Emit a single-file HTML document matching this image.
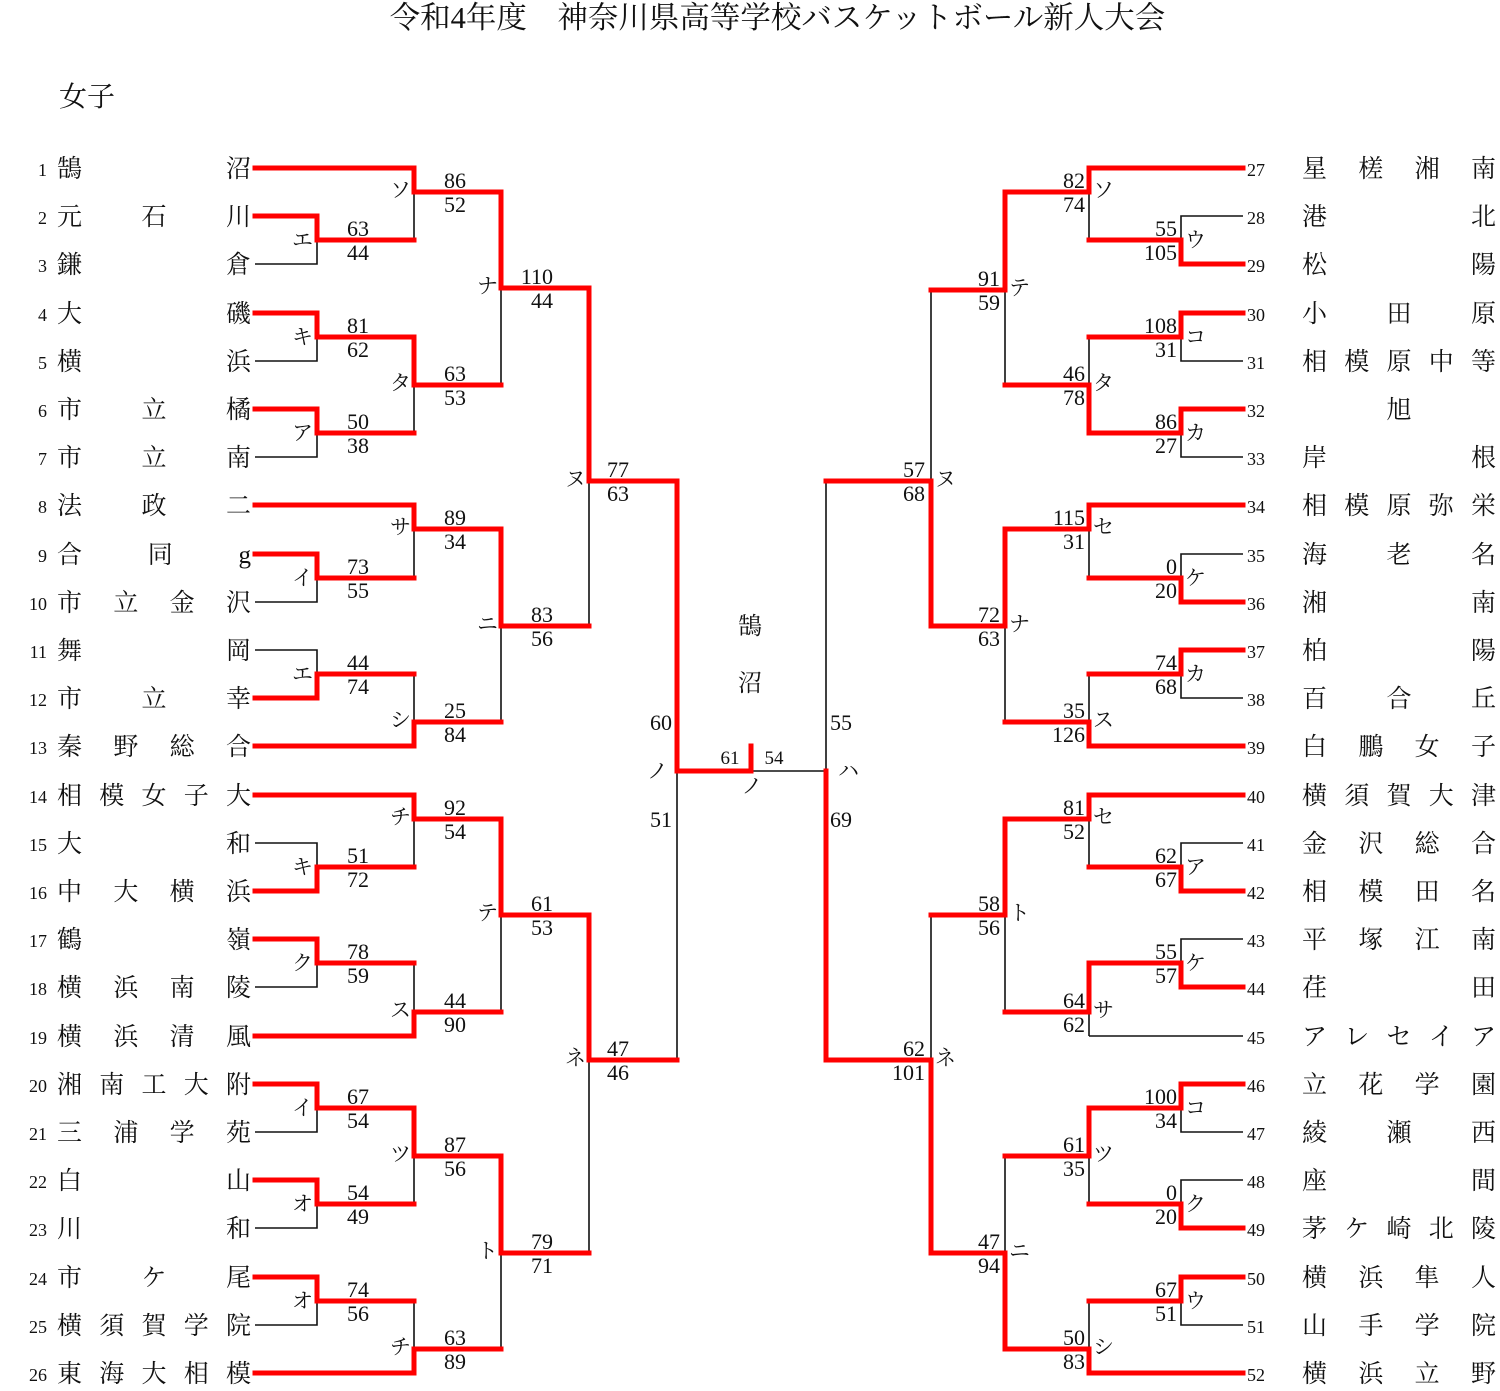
<!DOCTYPE html>
<html><head><meta charset="utf-8"><style>
body{margin:0;background:#fff;}
#w{position:relative;width:1500px;height:1391px;overflow:hidden;font-family:"Liberation Serif","Noto Serif CJK SC",serif;color:#111;}
svg{position:absolute;left:0;top:0;}
.r{fill:none;stroke:#f00;stroke-width:5;stroke-linecap:square;stroke-linejoin:miter;}
.k{fill:none;stroke:#111;stroke-width:1.6;}
.s{font-family:"Liberation Serif","Noto Serif CJK SC",serif;font-size:22px;fill:#111;}
.kt{font-family:"Liberation Serif","Noto Serif CJK SC",serif;font-size:21px;fill:#111;}
.row{position:absolute;height:30px;line-height:30px;margin-top:2px;}
.n{position:absolute;width:40px;text-align:right;font-size:18px;}
.nr{position:absolute;font-size:18px;}
.nm{position:absolute;display:flex;justify-content:space-between;font-size:25px;}
.c{justify-content:center;}
.title{position:absolute;left:0;width:1555px;text-align:center;top:-1px;font-size:30.5px;line-height:38px;}
</style></head><body><div id="w">
<div class="title">令和4年度　神奈川県高等学校バスケットボール新人大会</div>
<div style="position:absolute;left:59px;top:80px;font-size:28px;line-height:36px;">女子</div>
<div style="position:absolute;left:738px;top:606px;font-size:24px;">鵠</div>
<div style="position:absolute;left:738px;top:663px;font-size:24px;">沼</div>

<svg width="1500" height="1391" viewBox="0 0 1500 1391">
<g class="k">
<path d="M255 264H317V240M255 361H317V337M255 457H317V433M255 602H317V578M255 650H317V674M255 843H317V867M255 987H317V963M255 1132H317V1108M255 1228H317V1204M255 1325H317V1301"/>
<path d="M414 240V192M414 433V385M414 578V529M414 674V722M414 867V819M414 963V1012M414 1204V1156M414 1301V1349"/>
<path d="M501 385V288M501 722V626M501 1012V915M501 1349V1253M589 626V481M589 1253V1060M677 1060V771M751 771H826"/>
<path d="M1243 216H1181V240M1243 361H1181V337M1243 457H1181V433M1243 554H1181V578M1243 698H1181V674M1243 843H1181V867M1243 939H1181V963M1243 1132H1181V1108M1243 1180H1181V1204M1243 1325H1181V1301M1243 1036H1089"/>
<path d="M1089 240V192M1089 337V385M1089 578V529M1089 674V722M1089 867V819M1089 1036V1012M1089 1204V1156M1089 1301V1349"/>
<path d="M1005 385V290M1005 722V626M1005 1012V915M1005 1156V1253M931 290V481M931 915V1060M826 481V771"/>
</g>
<g class="r">
<path d="M255 216H317V240H414M255 313H317V337H414M255 409H317V433H414M255 554H317V578H414M255 698H317V674H414M255 891H317V867H414M255 939H317V963H414M255 1084H317V1108H414M255 1180H317V1204H414M255 1277H317V1301H414"/>
<path d="M255 168H414M255 505H414M255 746H414M255 795H414M255 1036H414M255 1373H414"/>
<path d="M414 168V192H501M414 337V385H501M414 505V529H501M414 746V722H501M414 795V819H501M414 1036V1012H501M414 1108V1156H501M414 1373V1349H501"/>
<path d="M501 192V288H589M501 529V626H589M501 819V915H589M501 1156V1253H589"/>
<path d="M589 288V481H677M589 915V1060H677"/>
<path d="M677 481V771H751V746"/>
<path d="M1243 264H1181V240H1089M1243 313H1181V337H1089M1243 409H1181V433H1089M1243 602H1181V578H1089M1243 650H1181V674H1089M1243 891H1181V867H1089M1243 987H1181V963H1089M1243 1084H1181V1108H1089M1243 1228H1181V1204H1089M1243 1277H1181V1301H1089"/>
<path d="M1243 168H1089M1243 505H1089M1243 746H1089M1243 795H1089M1243 1373H1089"/>
<path d="M1089 168V192H1005M1089 433V385H1005M1089 505V529H1005M1089 746V722H1005M1089 795V819H1005M1089 963V1012H1005M1089 1108V1156H1005M1089 1373V1349H1005"/>
<path d="M1005 192V290H931M1005 529V626H931M1005 819V915H931M1005 1349V1253H931"/>
<path d="M931 626V481H826M931 1253V1060H826"/>
<path d="M826 1060V771"/>
</g>

<g class="s" text-anchor="end">
<text x="369" y="236">63</text><text x="369" y="260">44</text>
<text x="369" y="333">81</text><text x="369" y="357">62</text>
<text x="369" y="429">50</text><text x="369" y="453">38</text>
<text x="369" y="574">73</text><text x="369" y="598">55</text>
<text x="369" y="670">44</text><text x="369" y="694">74</text>
<text x="369" y="863">51</text><text x="369" y="887">72</text>
<text x="369" y="959">78</text><text x="369" y="983">59</text>
<text x="369" y="1104">67</text><text x="369" y="1128">54</text>
<text x="369" y="1200">54</text><text x="369" y="1224">49</text>
<text x="369" y="1297">74</text><text x="369" y="1321">56</text>
<text x="466" y="188">86</text><text x="466" y="212">52</text>
<text x="466" y="381">63</text><text x="466" y="405">53</text>
<text x="466" y="525">89</text><text x="466" y="549">34</text>
<text x="466" y="718">25</text><text x="466" y="742">84</text>
<text x="466" y="815">92</text><text x="466" y="839">54</text>
<text x="466" y="1008">44</text><text x="466" y="1032">90</text>
<text x="466" y="1152">87</text><text x="466" y="1176">56</text>
<text x="466" y="1345">63</text><text x="466" y="1369">89</text>
<text x="553" y="284">110</text><text x="553" y="308">44</text>
<text x="553" y="622">83</text><text x="553" y="646">56</text>
<text x="553" y="911">61</text><text x="553" y="935">53</text>
<text x="553" y="1249">79</text><text x="553" y="1273">71</text>
<text x="629" y="477">77</text><text x="629" y="501">63</text>
<text x="629" y="1056">47</text><text x="629" y="1080">46</text>
<text x="672" y="730">60</text><text x="672" y="827">51</text>
<text x="1177" y="236">55</text><text x="1177" y="260">105</text>
<text x="1177" y="333">108</text><text x="1177" y="357">31</text>
<text x="1177" y="429">86</text><text x="1177" y="453">27</text>
<text x="1177" y="574">0</text><text x="1177" y="598">20</text>
<text x="1177" y="670">74</text><text x="1177" y="694">68</text>
<text x="1177" y="863">62</text><text x="1177" y="887">67</text>
<text x="1177" y="959">55</text><text x="1177" y="983">57</text>
<text x="1177" y="1104">100</text><text x="1177" y="1128">34</text>
<text x="1177" y="1200">0</text><text x="1177" y="1224">20</text>
<text x="1177" y="1297">67</text><text x="1177" y="1321">51</text>
<text x="1085" y="188">82</text><text x="1085" y="212">74</text>
<text x="1085" y="381">46</text><text x="1085" y="405">78</text>
<text x="1085" y="525">115</text><text x="1085" y="549">31</text>
<text x="1085" y="718">35</text><text x="1085" y="742">126</text>
<text x="1085" y="815">81</text><text x="1085" y="839">52</text>
<text x="1085" y="1008">64</text><text x="1085" y="1032">62</text>
<text x="1085" y="1152">61</text><text x="1085" y="1176">35</text>
<text x="1085" y="1345">50</text><text x="1085" y="1369">83</text>
<text x="1000" y="286">91</text><text x="1000" y="310">59</text>
<text x="1000" y="622">72</text><text x="1000" y="646">63</text>
<text x="1000" y="911">58</text><text x="1000" y="935">56</text>
<text x="1000" y="1249">47</text><text x="1000" y="1273">94</text>
<text x="925" y="477">57</text><text x="925" y="501">68</text>
<text x="925" y="1056">62</text><text x="925" y="1080">101</text>
</g>
<g class="s" text-anchor="start">
<text x="830" y="730">55</text><text x="830" y="827">69</text>
</g>
<g style="font-family:'Liberation Serif',serif;font-size:19px;fill:#111" text-anchor="middle">
<text x="730" y="764">61</text><text x="774" y="764">54</text>
</g>

<g class="kt" text-anchor="end">
<text x="313" y="247">エ</text><text x="313" y="344">キ</text><text x="313" y="440">ア</text><text x="313" y="585">イ</text><text x="313" y="681">エ</text><text x="313" y="874">キ</text><text x="313" y="970">ク</text><text x="313" y="1115">イ</text><text x="313" y="1211">オ</text><text x="313" y="1308">オ</text>
<text x="411" y="197">ソ</text><text x="411" y="390">タ</text><text x="411" y="534">サ</text><text x="411" y="727">シ</text><text x="411" y="824">チ</text><text x="411" y="1017">ス</text><text x="411" y="1161">ツ</text><text x="411" y="1354">チ</text>
<text x="498" y="293">ナ</text><text x="498" y="631">ニ</text><text x="498" y="920">テ</text><text x="498" y="1258">ト</text>
<text x="586" y="486">ヌ</text><text x="586" y="1065">ネ</text>
<text x="668" y="778">ノ</text>
</g>
<text class="kt" x="752" y="793" text-anchor="middle">ノ</text>
<g class="kt" text-anchor="start">
<text x="1185" y="247">ウ</text><text x="1185" y="344">コ</text><text x="1185" y="440">カ</text><text x="1185" y="585">ケ</text><text x="1185" y="681">カ</text><text x="1185" y="874">ア</text><text x="1185" y="970">ケ</text><text x="1185" y="1115">コ</text><text x="1185" y="1211">ク</text><text x="1185" y="1308">ウ</text>
<text x="1093" y="197">ソ</text><text x="1093" y="390">タ</text><text x="1093" y="534">セ</text><text x="1093" y="727">ス</text><text x="1093" y="824">セ</text><text x="1093" y="1017">サ</text><text x="1093" y="1161">ツ</text><text x="1093" y="1354">シ</text>
<text x="1009" y="295">テ</text><text x="1009" y="631">ナ</text><text x="1009" y="920">ト</text><text x="1009" y="1258">ニ</text>
<text x="935" y="486">ヌ</text><text x="935" y="1065">ネ</text>
<text x="838" y="778">ハ</text>
</g>
</svg>

<!-- left names -->
<div class="row" style="top:153px"><div class="n" style="left:7px">1</div><div class="nm" style="left:57px;width:194px"><span>鵠</span><span>沼</span></div></div>
<div class="row" style="top:201px"><div class="n" style="left:7px">2</div><div class="nm" style="left:57px;width:194px"><span>元</span><span>石</span><span>川</span></div></div>
<div class="row" style="top:249px"><div class="n" style="left:7px">3</div><div class="nm" style="left:57px;width:194px"><span>鎌</span><span>倉</span></div></div>
<div class="row" style="top:298px"><div class="n" style="left:7px">4</div><div class="nm" style="left:57px;width:194px"><span>大</span><span>磯</span></div></div>
<div class="row" style="top:346px"><div class="n" style="left:7px">5</div><div class="nm" style="left:57px;width:194px"><span>横</span><span>浜</span></div></div>
<div class="row" style="top:394px"><div class="n" style="left:7px">6</div><div class="nm" style="left:57px;width:194px"><span>市</span><span>立</span><span>橘</span></div></div>
<div class="row" style="top:442px"><div class="n" style="left:7px">7</div><div class="nm" style="left:57px;width:194px"><span>市</span><span>立</span><span>南</span></div></div>
<div class="row" style="top:490px"><div class="n" style="left:7px">8</div><div class="nm" style="left:57px;width:194px"><span>法</span><span>政</span><span>二</span></div></div>
<div class="row" style="top:539px"><div class="n" style="left:7px">9</div><div class="nm" style="left:57px;width:194px"><span>合</span><span>同</span><span>g</span></div></div>
<div class="row" style="top:587px"><div class="n" style="left:7px">10</div><div class="nm" style="left:57px;width:194px"><span>市</span><span>立</span><span>金</span><span>沢</span></div></div>
<div class="row" style="top:635px"><div class="n" style="left:7px">11</div><div class="nm" style="left:57px;width:194px"><span>舞</span><span>岡</span></div></div>
<div class="row" style="top:683px"><div class="n" style="left:7px">12</div><div class="nm" style="left:57px;width:194px"><span>市</span><span>立</span><span>幸</span></div></div>
<div class="row" style="top:731px"><div class="n" style="left:7px">13</div><div class="nm" style="left:57px;width:194px"><span>秦</span><span>野</span><span>総</span><span>合</span></div></div>
<div class="row" style="top:780px"><div class="n" style="left:7px">14</div><div class="nm" style="left:57px;width:194px"><span>相</span><span>模</span><span>女</span><span>子</span><span>大</span></div></div>
<div class="row" style="top:828px"><div class="n" style="left:7px">15</div><div class="nm" style="left:57px;width:194px"><span>大</span><span>和</span></div></div>
<div class="row" style="top:876px"><div class="n" style="left:7px">16</div><div class="nm" style="left:57px;width:194px"><span>中</span><span>大</span><span>横</span><span>浜</span></div></div>
<div class="row" style="top:924px"><div class="n" style="left:7px">17</div><div class="nm" style="left:57px;width:194px"><span>鶴</span><span>嶺</span></div></div>
<div class="row" style="top:972px"><div class="n" style="left:7px">18</div><div class="nm" style="left:57px;width:194px"><span>横</span><span>浜</span><span>南</span><span>陵</span></div></div>
<div class="row" style="top:1021px"><div class="n" style="left:7px">19</div><div class="nm" style="left:57px;width:194px"><span>横</span><span>浜</span><span>清</span><span>風</span></div></div>
<div class="row" style="top:1069px"><div class="n" style="left:7px">20</div><div class="nm" style="left:57px;width:194px"><span>湘</span><span>南</span><span>工</span><span>大</span><span>附</span></div></div>
<div class="row" style="top:1117px"><div class="n" style="left:7px">21</div><div class="nm" style="left:57px;width:194px"><span>三</span><span>浦</span><span>学</span><span>苑</span></div></div>
<div class="row" style="top:1165px"><div class="n" style="left:7px">22</div><div class="nm" style="left:57px;width:194px"><span>白</span><span>山</span></div></div>
<div class="row" style="top:1213px"><div class="n" style="left:7px">23</div><div class="nm" style="left:57px;width:194px"><span>川</span><span>和</span></div></div>
<div class="row" style="top:1262px"><div class="n" style="left:7px">24</div><div class="nm" style="left:57px;width:194px"><span>市</span><span>ケ</span><span>尾</span></div></div>
<div class="row" style="top:1310px"><div class="n" style="left:7px">25</div><div class="nm" style="left:57px;width:194px"><span>横</span><span>須</span><span>賀</span><span>学</span><span>院</span></div></div>
<div class="row" style="top:1358px"><div class="n" style="left:7px">26</div><div class="nm" style="left:57px;width:194px"><span>東</span><span>海</span><span>大</span><span>相</span><span>模</span></div></div>

<!-- right names -->
<div class="row" style="top:153px"><div class="nr" style="left:1247px">27</div><div class="nm" style="left:1302px;width:194px"><span>星</span><span>槎</span><span>湘</span><span>南</span></div></div>
<div class="row" style="top:201px"><div class="nr" style="left:1247px">28</div><div class="nm" style="left:1302px;width:194px"><span>港</span><span>北</span></div></div>
<div class="row" style="top:249px"><div class="nr" style="left:1247px">29</div><div class="nm" style="left:1302px;width:194px"><span>松</span><span>陽</span></div></div>
<div class="row" style="top:298px"><div class="nr" style="left:1247px">30</div><div class="nm" style="left:1302px;width:194px"><span>小</span><span>田</span><span>原</span></div></div>
<div class="row" style="top:346px"><div class="nr" style="left:1247px">31</div><div class="nm" style="left:1302px;width:194px"><span>相</span><span>模</span><span>原</span><span>中</span><span>等</span></div></div>
<div class="row" style="top:394px"><div class="nr" style="left:1247px">32</div><div class="nm c" style="left:1302px;width:194px"><span>旭</span></div></div>
<div class="row" style="top:442px"><div class="nr" style="left:1247px">33</div><div class="nm" style="left:1302px;width:194px"><span>岸</span><span>根</span></div></div>
<div class="row" style="top:490px"><div class="nr" style="left:1247px">34</div><div class="nm" style="left:1302px;width:194px"><span>相</span><span>模</span><span>原</span><span>弥</span><span>栄</span></div></div>
<div class="row" style="top:539px"><div class="nr" style="left:1247px">35</div><div class="nm" style="left:1302px;width:194px"><span>海</span><span>老</span><span>名</span></div></div>
<div class="row" style="top:587px"><div class="nr" style="left:1247px">36</div><div class="nm" style="left:1302px;width:194px"><span>湘</span><span>南</span></div></div>
<div class="row" style="top:635px"><div class="nr" style="left:1247px">37</div><div class="nm" style="left:1302px;width:194px"><span>柏</span><span>陽</span></div></div>
<div class="row" style="top:683px"><div class="nr" style="left:1247px">38</div><div class="nm" style="left:1302px;width:194px"><span>百</span><span>合</span><span>丘</span></div></div>
<div class="row" style="top:731px"><div class="nr" style="left:1247px">39</div><div class="nm" style="left:1302px;width:194px"><span>白</span><span>鵬</span><span>女</span><span>子</span></div></div>
<div class="row" style="top:780px"><div class="nr" style="left:1247px">40</div><div class="nm" style="left:1302px;width:194px"><span>横</span><span>須</span><span>賀</span><span>大</span><span>津</span></div></div>
<div class="row" style="top:828px"><div class="nr" style="left:1247px">41</div><div class="nm" style="left:1302px;width:194px"><span>金</span><span>沢</span><span>総</span><span>合</span></div></div>
<div class="row" style="top:876px"><div class="nr" style="left:1247px">42</div><div class="nm" style="left:1302px;width:194px"><span>相</span><span>模</span><span>田</span><span>名</span></div></div>
<div class="row" style="top:924px"><div class="nr" style="left:1247px">43</div><div class="nm" style="left:1302px;width:194px"><span>平</span><span>塚</span><span>江</span><span>南</span></div></div>
<div class="row" style="top:972px"><div class="nr" style="left:1247px">44</div><div class="nm" style="left:1302px;width:194px"><span>荏</span><span>田</span></div></div>
<div class="row" style="top:1021px"><div class="nr" style="left:1247px">45</div><div class="nm" style="left:1302px;width:194px"><span>ア</span><span>レ</span><span>セ</span><span>イ</span><span>ア</span></div></div>
<div class="row" style="top:1069px"><div class="nr" style="left:1247px">46</div><div class="nm" style="left:1302px;width:194px"><span>立</span><span>花</span><span>学</span><span>園</span></div></div>
<div class="row" style="top:1117px"><div class="nr" style="left:1247px">47</div><div class="nm" style="left:1302px;width:194px"><span>綾</span><span>瀬</span><span>西</span></div></div>
<div class="row" style="top:1165px"><div class="nr" style="left:1247px">48</div><div class="nm" style="left:1302px;width:194px"><span>座</span><span>間</span></div></div>
<div class="row" style="top:1213px"><div class="nr" style="left:1247px">49</div><div class="nm" style="left:1302px;width:194px"><span>茅</span><span>ケ</span><span>崎</span><span>北</span><span>陵</span></div></div>
<div class="row" style="top:1262px"><div class="nr" style="left:1247px">50</div><div class="nm" style="left:1302px;width:194px"><span>横</span><span>浜</span><span>隼</span><span>人</span></div></div>
<div class="row" style="top:1310px"><div class="nr" style="left:1247px">51</div><div class="nm" style="left:1302px;width:194px"><span>山</span><span>手</span><span>学</span><span>院</span></div></div>
<div class="row" style="top:1358px"><div class="nr" style="left:1247px">52</div><div class="nm" style="left:1302px;width:194px"><span>横</span><span>浜</span><span>立</span><span>野</span></div></div>
</div></body></html>
